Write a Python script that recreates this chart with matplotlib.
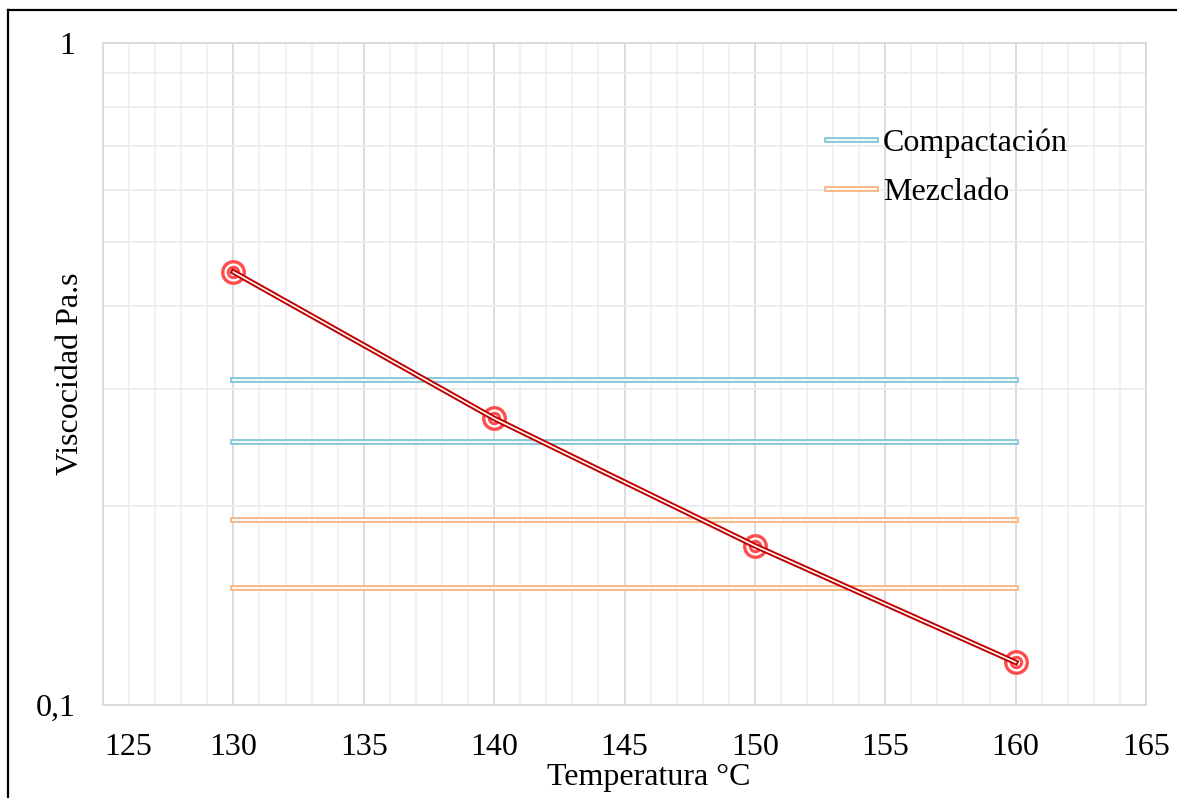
import matplotlib.pyplot as plt
import matplotlib.patheffects as pe
from matplotlib.lines import Line2D
from matplotlib.transforms import ScaledTranslation
from matplotlib.ticker import FixedLocator, MultipleLocator, NullFormatter

# Datos
temperatura = [130, 140, 150, 160]
viscosidad = [0.451, 0.271, 0.174, 0.116]

rango_x = [130, 160]
compactacion = [0.25, 0.31]
mezclado = [0.15, 0.19]

x_ticks = [125, 130, 135, 140, 145, 150, 155, 160, 165]

plt.rcParams['font.family'] = ['Liberation Serif', 'DejaVu Serif']

fig = plt.figure(figsize=(11.77, 7.98), dpi=100)
ax = fig.add_axes([103 / 1177, 1 - 705 / 798, (1146 - 103) / 1177, (705 - 43) / 798])

ax.set_yscale('log')
ax.set_ylim(0.1, 1)
ax.set_xlim(125, 165)

# Cuadricula
ax.xaxis.set_major_locator(FixedLocator(x_ticks))
ax.xaxis.set_minor_locator(MultipleLocator(1))
ax.yaxis.set_major_locator(FixedLocator([0.1, 1]))
ax.yaxis.set_minor_locator(FixedLocator([0.2, 0.3, 0.4, 0.5, 0.6, 0.7, 0.8, 0.9]))
ax.yaxis.set_minor_formatter(NullFormatter())
ax.set_yticklabels(['0,1', '1'])
ax.grid(which='major', axis='x', color='#d9d9d9', linewidth=1.3, zorder=0)
ax.grid(which='minor', axis='x', color='#f0f0f0', linewidth=1.3, zorder=0)
ax.grid(which='minor', axis='y', color='#ececec', linewidth=1.3, zorder=0)
ax.grid(which='major', axis='y', color='#d9d9d9', linewidth=1.3, zorder=0)
ax.set_axisbelow(True)
for s in ax.spines.values():
    s.set_color('#d9d9d9')
    s.set_linewidth(1.3)
ax.tick_params(which='both', length=0, labelsize=23)
ax.tick_params(axis='x', pad=20)
ax.tick_params(axis='y', pad=20)

# Lineas dobles (estilo Excel)
def doble(color, ancho):
    return [pe.Stroke(linewidth=ancho, foreground=color), pe.Normal()]

azul = '#86c8dc'
naranja = '#f7b98a'
for v in compactacion:
    ax.plot(rango_x, [v, v], color='white', linewidth=1.3, zorder=2,
            path_effects=doble(azul, 4.2))
for v in mezclado:
    ax.plot(rango_x, [v, v], color='white', linewidth=1.3, zorder=2,
            path_effects=doble(naranja, 4.2))

# Marcadores dobles y linea de viscosidad
rojo_m = '#ff4d4d'
ax.plot(temperatura, viscosidad, linestyle='none', marker='o', markersize=15.5,
        markerfacecolor='white', markeredgecolor=rojo_m, markeredgewidth=2.4, zorder=3)
ax.plot(temperatura, viscosidad, linestyle='none', marker='o', markersize=7.5,
        markerfacecolor='white', markeredgecolor=rojo_m, markeredgewidth=2.2, zorder=3)
ax.plot(temperatura, viscosidad, color='white', linewidth=1.2, zorder=4,
        path_effects=doble('#c00000', 4.0))

ax.set_xlabel('Temperatura °C', fontsize=23, va='center')
ax.set_ylabel('Viscocidad Pa.s', fontsize=23, va='center')
ax.xaxis.set_label_coords(0.5235, -0.109)
ax.yaxis.set_label_coords(-0.031, 0.5)

# la etiqueta 125 esta desplazada a la derecha en el original
lab = ax.get_xticklabels()[0]
lab.set_transform(lab.get_transform() + ScaledTranslation(0.25, 0, fig.dpi_scale_trans))

handles = [
    Line2D([], [], color='white', linewidth=1.3, path_effects=doble(azul, 4.2)),
    Line2D([], [], color='white', linewidth=1.3, path_effects=doble(naranja, 4.2)),
]
fig.legend(handles, ['Compactación', 'Mezclado'], loc='upper left',
           bbox_to_anchor=(798 / 1177, 1 - 100 / 798), frameon=False, fontsize=23,
           handlelength=1.55, handletextpad=0.2, labelspacing=0.62)

# Marco negro
fig.add_artist(Line2D([8 / 1177, 8 / 1177], [0, 1 - 10 / 798], color='black', linewidth=1.6))
fig.add_artist(Line2D([8 / 1177, 1], [1 - 10 / 798, 1 - 10 / 798], color='black', linewidth=1.6))

fig.savefig('out.png', dpi=100)
